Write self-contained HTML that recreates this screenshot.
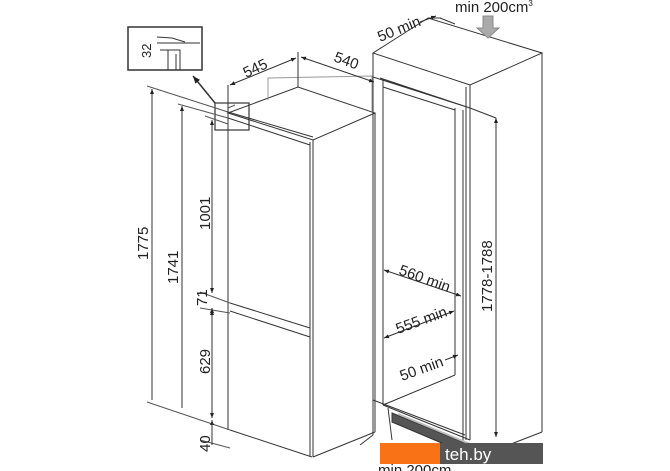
<!DOCTYPE html>
<html><head><meta charset="utf-8"><style>
html,body{margin:0;padding:0;background:#fff;}
svg{display:block;font-family:"Liberation Sans",sans-serif;}
</style></head><body>
<svg width="670" height="471" viewBox="0 0 670 471" xmlns="http://www.w3.org/2000/svg">
<defs>
<marker id="a" viewBox="0 0 10 10" refX="10" refY="5" markerWidth="5" markerHeight="5" orient="auto-start-reverse"><path d="M0,1 L10,5 L0,9 z" fill="#222"/></marker>
</defs>
<rect width="670" height="471" fill="#fff"/>
<g stroke="#333" stroke-width="1" fill="none">
<rect x="128" y="27" width="74" height="43" stroke-width="1.5"/>
<line x1="157" y1="43" x2="200" y2="43"/>
<path d="M157,37 L172,38 L185,42 M160,50 L180,50 L180,70 M168,50 L168,70 M176,54 L176,70"/>
<line x1="215" y1="103" x2="193" y2="76" stroke-width="1.5" marker-end="url(#a)"/>
<rect x="215" y="103" width="34" height="27" stroke-width="1.2"/>
<path d="M228,113 L298,87 L375,113 L313,140 Z"/>
<path d="M228,118 L310,145 M228,112 L313,137"/>
<path d="M228,112 L228,430 M310,142 L310,456 M313,140 L313,457 M375,113 L375,432 M313,457 L375,432"/>
<path d="M230,303 L310,328 M230,311 L310,337 M230,430 L312,457"/>
<path d="M268,100 L268,78 L372,76 L372,112" stroke="#999"/>
<path d="M147,86 L228,112 M235,105 L228,108 M178,104 L228,118 M205,116 L228,124 M200,292 L230,303 M200,308 L230,313 M147,402 L230,430 M200,440 L230,448" stroke="#555"/>
<line x1="152" y1="400" x2="152" y2="89" marker-end="url(#a)"/>
<line x1="182" y1="408" x2="182" y2="106" marker-end="url(#a)"/>
<line x1="212" y1="293" x2="212" y2="120" marker-end="url(#a)"/>
<line x1="212" y1="285" x2="212" y2="293" marker-end="url(#a)"/>
<line x1="212" y1="316" x2="212" y2="308" marker-end="url(#a)"/>
<line x1="212" y1="310" x2="212" y2="418" marker-start="url(#a)" marker-end="url(#a)"/>
<line x1="212" y1="430" x2="212" y2="420" marker-end="url(#a)"/>
<line x1="212" y1="420" x2="212" y2="445"/>
<line x1="230" y1="85" x2="296" y2="58" marker-start="url(#a)" marker-end="url(#a)"/>
<line x1="301" y1="57" x2="374" y2="82" marker-start="url(#a)" marker-end="url(#a)"/>
<path d="M228,85 L228,112 M298,52 L298,87"/>
<path d="M373,53 L428,18 L542,53 L470,85 Z"/>
<path d="M373,53 L373,435 M373,77 L470,108 M380,78 L470,108 M470,85 L470,440 M542,53 L542,432 M466,87 L466,440"/>
<path d="M383,79 L383,405 M383,405 L455,375 M455,108 L455,375 M463,110 L463,442 M383,87 L455,110"/>
<path d="M373,400 L465,435 M383,405 L470,440 M388,408 L392,440 M542,432 L470,460 M373,435 L360,445"/>
<path d="M392,413 L470,445 L470,455 L392,422 Z" fill="#555"/>
<path d="M398,414 L470,444" stroke="#bbb" stroke-width="2"/>
<path d="M428,18 L440,18 L455,24 M440,18 L450,22" />
<line x1="496" y1="437" x2="496" y2="118" marker-start="url(#a)" marker-end="url(#a)"/>
<path d="M470,108 L496,118"/>
<line x1="384" y1="270" x2="461" y2="296" marker-start="url(#a)" marker-end="url(#a)"/>
<line x1="384" y1="338" x2="454" y2="311" marker-start="url(#a)" marker-end="url(#a)"/>
<line x1="445" y1="360" x2="458" y2="355" marker-end="url(#a)"/>
<line x1="420" y1="22" x2="436" y2="16" marker-end="url(#a)"/>
</g>
<path d="M483,16 L493,16 L493,28 L499,28 L488,38 L477,28 L483,28 Z" fill="#aaa" stroke="#888"/>
<g fill="#222" font-size="15">
<text transform="translate(151,58) rotate(-90)" font-size="13">32</text>
<text transform="translate(246,78) rotate(-25)">545</text>
<text transform="translate(333,61) rotate(20)">540</text>
<text transform="translate(148,260) rotate(-90)">1775</text>
<text transform="translate(178,284) rotate(-90)">1741</text>
<text transform="translate(210,230) rotate(-90)">1001</text>
<text transform="translate(207,306) rotate(-90)">71</text>
<text transform="translate(210,374) rotate(-90)">629</text>
<text transform="translate(210,452) rotate(-90)">40</text>
<text transform="translate(380,42) rotate(-22)">50 min</text>
<text x="455" y="12">min 200cm<tspan font-size="8" dy="-6">3</tspan></text>
<text transform="translate(398,274) rotate(20)">560 min</text>
<text transform="translate(398,334) rotate(-20)">555 min</text>
<text transform="translate(402,381) rotate(-20)">50 min</text>
<text transform="translate(492,312) rotate(-90)">1778-1788</text>
<text x="378" y="475">min 200cm</text>
</g>
<rect x="380" y="443" width="60" height="21" fill="#f97316"/>
<rect x="440" y="443" width="103" height="21" fill="#555"/>
<text x="445" y="460" fill="#fff" font-size="17" font-family="Liberation Sans, sans-serif">teh.by</text>
</svg>
</body></html>
